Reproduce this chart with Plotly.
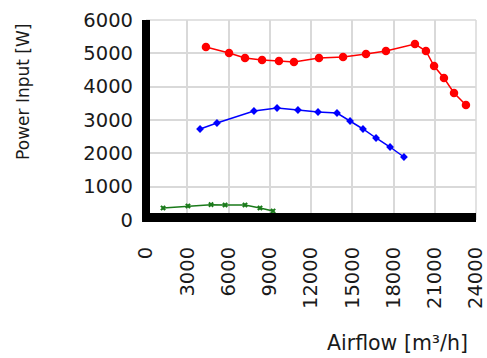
import plotly.graph_objects as go

# Data
red_x = [4360, 6040, 7200, 8440, 9670, 10760, 12580, 14330, 16000, 17450, 19560, 20360, 20950, 21670, 22400, 23270]
red_y = [5190, 5010, 4860, 4800, 4770, 4740, 4860, 4890, 4980, 5070, 5280, 5070, 4620, 4260, 3810, 3450]

blue_x = [3930, 5160, 7850, 9530, 11050, 12510, 13890, 14840, 15780, 16730, 17750, 18760]
blue_y = [2730, 2910, 3270, 3360, 3300, 3240, 3210, 2970, 2730, 2460, 2190, 1890]

green_x = [1240, 3050, 4730, 5750, 7200, 8290, 9240]
green_y = [360, 420, 460, 450, 450, 360, 270]

x_ticks = [0, 3000, 6000, 9000, 12000, 15000, 18000, 21000, 24000]
y_ticks = [0, 1000, 2000, 3000, 4000, 5000, 6000]

FONT = "DejaVu Sans, Verdana, sans-serif"
GRID = "#d9d9d9"

fig = go.Figure()
fig.add_trace(go.Scatter(x=green_x, y=green_y, mode="lines+markers",
                         line=dict(color="#1a7a1a", width=1.5),
                         marker=dict(symbol="x", size=5, color="#1a7a1a")))
fig.add_trace(go.Scatter(x=blue_x, y=blue_y, mode="lines+markers",
                         line=dict(color="#0000ff", width=1.5),
                         marker=dict(symbol="diamond", size=6, color="#0000ff")))
fig.add_trace(go.Scatter(x=red_x, y=red_y, mode="lines+markers",
                         line=dict(color="#ff0000", width=1.5),
                         marker=dict(symbol="circle", size=8.5, color="#ff0000")))

tick_font = dict(family=FONT, size=19.5, color="#1a1a1a")

fig.update_layout(
    width=487, height=358,
    margin=dict(l=146, r=11, t=20, b=138, autoexpand=False),
    paper_bgcolor="white", plot_bgcolor="white",
    showlegend=False,
    xaxis=dict(range=[0, 24000], tickvals=x_ticks, ticktext=[str(v) for v in x_ticks],
               tickangle=-90, tickfont=tick_font, showgrid=True, gridcolor=GRID,
               gridwidth=1.5, zeroline=False, showline=False, ticklabelstandoff=22,
               ticklabeloverflow="allow", automargin=False, fixedrange=True),
    yaxis=dict(range=[0, 6000], tickvals=y_ticks, ticktext=[str(v) for v in y_ticks],
               tickfont=tick_font, showgrid=True, gridcolor=GRID, gridwidth=1.5,
               zeroline=False, showline=False, ticklabelstandoff=12,
               ticklabeloverflow="allow", automargin=False, fixedrange=True),
    shapes=[
        dict(type="line", xref="paper", yref="paper", x0=1, x1=1, y0=0.0, y1=1.0,
             line=dict(color=GRID, width=1.5), layer="below"),
        dict(type="line", xref="paper", yref="paper", x0=0, x1=1, y0=1.0, y1=1.0,
             line=dict(color=GRID, width=1.5), layer="below"),
        dict(type="line", xref="paper", yref="paper", x0=0, x1=0, y0=0.0, y1=1.0,
             line=dict(color="black", width=8), layer="above"),
        dict(type="line", xref="paper", yref="paper", x0=-0.012, x1=1.0, y0=0.012, y1=0.012,
             line=dict(color="black", width=9), layer="above"),
    ],
    annotations=[
        dict(text="Power Input [W]", xref="paper", yref="paper", x=-0.373, y=0.64,
             textangle=-90, showarrow=False, xanchor="center", yanchor="middle",
             font=dict(family=FONT, size=17, color="#1a1a1a")),
        dict(text="Airflow [m³/h]", xref="paper", yref="paper", x=0.982, y=-0.615,
             showarrow=False, xanchor="right", yanchor="middle",
             font=dict(family=FONT, size=20.5, color="#1a1a1a")),
    ],
)

fig.write_html("out.html", config={"displayModeBar": False},
               post_script="document.body.style.margin='0';")
